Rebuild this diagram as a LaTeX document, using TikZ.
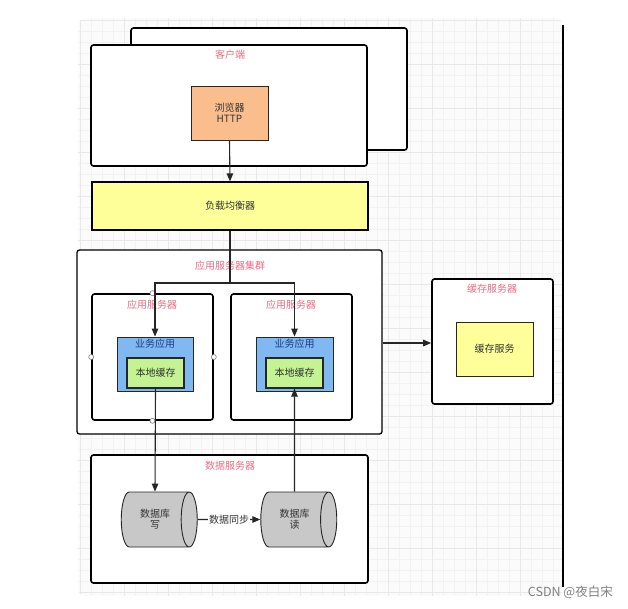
\documentclass[tikz,border=0pt]{standalone}
\usepackage{fontspec}
\setmainfont{Noto Sans CJK SC}
\usetikzlibrary{arrows.meta,shapes.geometric}
\definecolor{pinklab}{HTML}{E56F86}
\definecolor{bluelab}{HTML}{1F3C82}
\definecolor{orangefill}{HTML}{FABE8C}
\definecolor{yellowfill}{HTML}{FFFF99}
\definecolor{bluefill}{HTML}{80B9F2}
\definecolor{greenfill}{HTML}{C4F393}
\definecolor{grayfill}{HTML}{C8C8C8}
\definecolor{txt}{HTML}{333333}
\tikzset{
  bigbox/.style={draw=black, line width=1.6pt, rounded corners=2.5pt, fill=white, inner sep=0pt},
  colbox/.style={draw=black!85, line width=0.9pt, inner sep=0pt, text=txt, font=\fontsize{10}{12}\selectfont, align=center},
  grouplab/.style={text=pinklab, font=\fontsize{10}{12}\selectfont, inner sep=0pt},
  conn/.style={draw=black!85, line width=1.1pt, -{Triangle[length=8pt,width=6.5pt]}},
  plainline/.style={draw=black!85, line width=1.1pt},
  dbcyl/.style={cylinder, shape border rotate=0, draw=black!85, line width=0.9pt, fill=grayfill,
    minimum width=55pt, minimum height=76pt, aspect=0.8, inner sep=0pt, text=txt,
    font=\fontsize{10}{12}\selectfont, align=center},
  port/.style={circle, draw=gray, fill=white, line width=0.6pt, minimum size=5pt, inner sep=0pt}
}
\begin{document}
\begin{tikzpicture}[x=1pt,y=-1pt]
\useasboundingbox (0,0) rectangle (628,608);
% background grid
\begin{scope}
  \clip[rounded corners=8pt] (78,18) rectangle (563,596);
  \fill[black!1.5] (78,18) rectangle (563,596);
  \foreach \x in {80,91,...,563} \draw[black!5, line width=0.4pt] (\x,18) -- (\x,596);
  \foreach \y in {20,31,...,596} \draw[black!5, line width=0.4pt] (78,\y) -- (563,\y);
  \foreach \x in {80,124,...,563} \draw[black!9, line width=0.5pt] (\x,18) -- (\x,596);
  \foreach \y in {20,64,...,596} \draw[black!9, line width=0.5pt] (78,\y) -- (563,\y);
\end{scope}
\draw[black, line width=2pt] (563,25) -- (563,587);

% client
\node[bigbox, minimum width=276pt, minimum height=122pt] (clientback) at (269,89) {};
\node[bigbox, minimum width=276pt, minimum height=121pt] (client) at (229,105.5) {};
\node[grouplab] (clientlab) at (230,55) {客户端};
\node[colbox, fill=orangefill, minimum width=77pt, minimum height=54pt] (browser) at (229.5,113) {浏览器\\[-1pt]HTTP};

% load balancer
\node[colbox, fill=yellowfill, draw=black, line width=1.2pt, minimum width=276pt, minimum height=48pt] (lb) at (230,206) {负载均衡器};

% cluster
\node[bigbox, line width=1.3pt, minimum width=305pt, minimum height=184pt] (cluster) at (229.5,342) {};
\node[grouplab] (clusterlab) at (230,266) {应用服务器集群};
\node[bigbox, minimum width=121pt, minimum height=126pt] (app1) at (152.5,357) {};
\node[bigbox, minimum width=121pt, minimum height=126pt] (app2) at (291.5,357) {};
\node[grouplab] (app1lab) at (152,305) {应用服务器};
\node[grouplab] (app2lab) at (291,305) {应用服务器};
\node[colbox, fill=bluefill, minimum width=76pt, minimum height=54pt] (biz1) at (155,364) {};
\node[colbox, fill=bluefill, minimum width=77pt, minimum height=54pt] (biz2) at (294.5,364) {};
\node[text=bluelab, font=\fontsize{10}{12}\selectfont, inner sep=0pt] (biz1lab) at (155,343.5) {业务应用};
\node[text=bluelab, font=\fontsize{10}{12}\selectfont, inner sep=0pt] (biz2lab) at (294.5,343.5) {业务应用};
\node[colbox, fill=greenfill, line width=1.1pt, minimum width=57pt, minimum height=30pt] (cache1) at (155.5,373) {本地缓存};
\node[colbox, fill=greenfill, line width=1.1pt, minimum width=57pt, minimum height=30pt] (cache2) at (294.5,373) {本地缓存};
\node[port] (p1) at (app1.north) {};
\node[port] (p2) at (app1.west) {};
\node[port] (p3) at (app1.east) {};
\node[port] (p4) at (app1.south) {};

% cache server
\node[bigbox, minimum width=121pt, minimum height=125pt] (cachesrv) at (492.5,341.5) {};
\node[grouplab] (cachesrvlab) at (492,289) {缓存服务器};
\node[colbox, fill=yellowfill, minimum width=77pt, minimum height=54pt] (cachesvc) at (494.5,349) {缓存服务};

% data server
\node[bigbox, minimum width=277pt, minimum height=128pt] (datasrv) at (229.5,519) {};
\node[grouplab] (datasrvlab) at (230,466) {数据服务器};
\node[dbcyl] (dbw) at (155,519.5) {数据库\\[-1pt]写};
\node[dbcyl] (dbr) at (294.5,519.5) {数据库\\[-1pt]读};

% connectors
\draw[conn] (browser.south) -- (lb.north);
\coordinate (split) at (230,283);
\draw[plainline] (lb.south) -- (split);
\draw[conn] (split) -| (biz1.north);
\draw[conn] (split) -| (biz2.north);
\draw[conn] (cluster.east |- 0,343) -- (cachesrv.west |- 0,343);
\draw[conn] (cache1.south) -- (dbw.north);
\draw[conn] (dbr.north) -- (cache2.south);
\draw[conn] (dbw.east) -- node[fill=white, inner sep=1pt, text=txt, font=\fontsize{10}{12}\selectfont] (synclab) {数据同步} (dbr.west);

% watermark
\node[text=black!50, font=\fontsize{12.5}{14}\selectfont, inner sep=0pt, anchor=east] (wm) at (613,592) {CSDN @夜白宋};
\end{tikzpicture}
\end{document}
